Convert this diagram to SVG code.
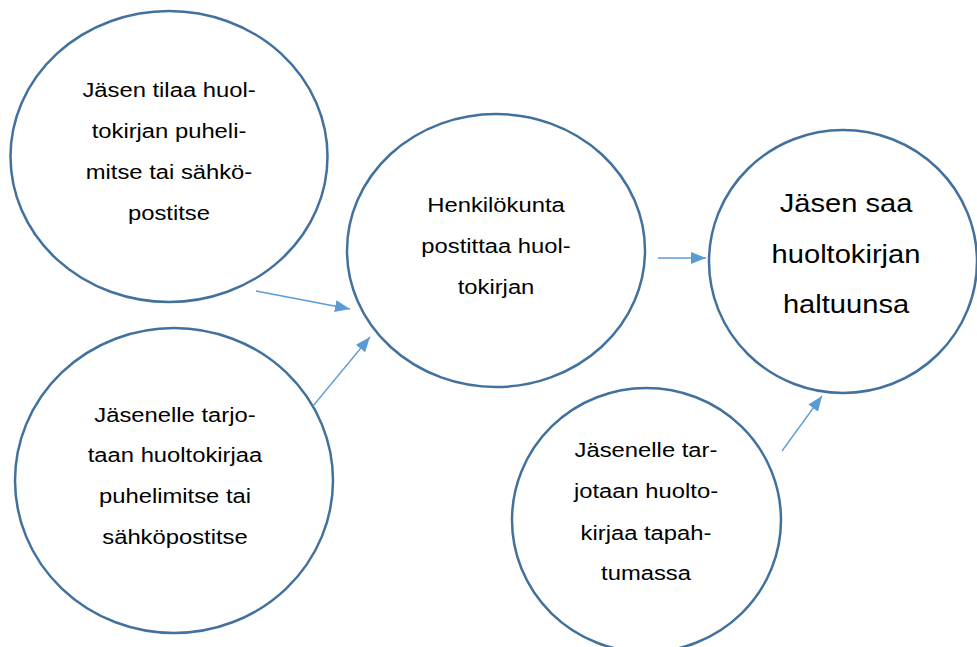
<svg xmlns="http://www.w3.org/2000/svg" width="977" height="647" viewBox="0 0 977 647">
<style>
.node{fill:#ffffff;stroke:#41719c;stroke-width:2.5}
.t{font-family:"Liberation Sans",Arial,sans-serif;font-size:20px;fill:#000;text-anchor:middle}
.tb{font-family:"Liberation Sans",Arial,sans-serif;font-size:26px;fill:#000;text-anchor:middle}
.conn{stroke:#5b9bd5;stroke-width:1.3;fill:none;marker-end:url(#ah)}
</style>
<defs>
<marker id="ah" markerUnits="userSpaceOnUse" markerWidth="15" markerHeight="12" refX="15" refY="6" orient="auto">
<path d="M0,0 L15,6 L0,12 z" fill="#5b9bd5"/>
</marker>
</defs>
<rect width="977" height="647" fill="#ffffff"/>
<g id="n1">
<ellipse class="node" cx="169" cy="156.5" rx="158.5" ry="145.5"/>
<g transform="translate(169,0) scale(1.19,1)">
<text class="t" x="0" y="97">Jäsen tilaa huol-</text>
<text class="t" x="0" y="138">tokirjan puheli-</text>
<text class="t" x="0" y="179">mitse tai sähkö-</text>
<text class="t" x="0" y="220">postitse</text>
</g>
</g>
<g id="n2">
<ellipse class="node" cx="174" cy="480.5" rx="159" ry="152.5"/>
<g transform="translate(175,0) scale(1.19,1)">
<text class="t" x="0" y="422">Jäsenelle tarjo-</text>
<text class="t" x="0" y="462">taan huoltokirjaa</text>
<text class="t" x="0" y="503">puhelimitse tai</text>
<text class="t" x="0" y="544">sähköpostitse</text>
</g>
</g>
<g id="n3">
<ellipse class="node" cx="496" cy="250.5" rx="149" ry="136.5"/>
<g transform="translate(496,0) scale(1.19,1)">
<text class="t" x="0" y="212">Henkilökunta</text>
<text class="t" x="0" y="253">postittaa huol-</text>
<text class="t" x="0" y="294">tokirjan</text>
</g>
</g>
<g id="n4">
<ellipse class="node" cx="843" cy="261.5" rx="134" ry="131.5"/>
<g transform="translate(846,0) scale(1.12,1)">
<text class="tb" x="0" y="212">Jäsen saa</text>
<text class="tb" x="0" y="263">huoltokirjan</text>
<text class="tb" x="0" y="313">haltuunsa</text>
</g>
</g>
<g id="n5">
<ellipse class="node" cx="646.5" cy="520" rx="134.5" ry="132"/>
<g transform="translate(646,0) scale(1.19,1)">
<text class="t" x="0" y="457">Jäsenelle tar-</text>
<text class="t" x="0" y="498">jotaan huolto-</text>
<text class="t" x="0" y="540">kirjaa tapah-</text>
<text class="t" x="0" y="580">tumassa</text>
</g>
</g>
<g id="connectors">
<line class="conn" x1="256" y1="291" x2="350" y2="309"/>
<line class="conn" x1="313" y1="406" x2="370" y2="337"/>
<line class="conn" x1="658" y1="258" x2="706" y2="258"/>
<line class="conn" x1="782" y1="451" x2="822" y2="396"/>
</g>
</svg>
